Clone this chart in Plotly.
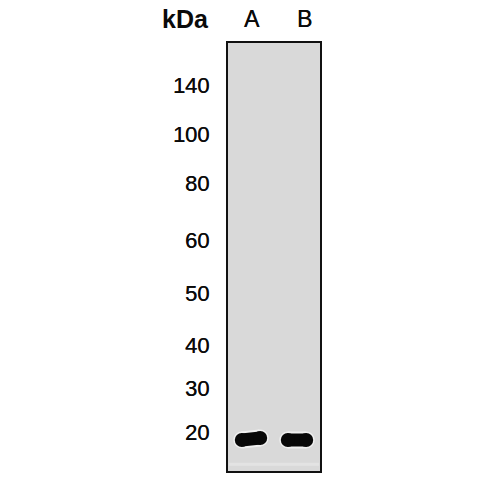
import plotly.graph_objects as go

# marker ladder (kDa) and how far each one ran down the gel
marker_kda = [140, 100, 80, 60, 50, 40, 30, 20]
marker_migration = [42, 91, 140, 197, 250, 302, 345, 389]

# sample lanes and their band
lanes = ["A", "B"]
lane_pos = [0, 1]
band_start_migration = [397, 397]
band_end_migration = [395, 397]
band_halfwidth = [0.2, 0.2]

heavy = "0.25px 0 0 #222"

fig = go.Figure()

for i, lane in enumerate(lanes):
    xs = [lane_pos[i] - band_halfwidth[i], lane_pos[i] + band_halfwidth[i]]
    ys = [band_start_migration[i], band_end_migration[i]]
    # faint halo around the band
    fig.add_trace(go.Scatter(x=xs, y=ys, mode="lines+markers",
                             line=dict(color="#f0f0f0", width=17),
                             marker=dict(color="#f0f0f0", size=17, symbol="circle"),
                             hoverinfo="skip", showlegend=False))
    fig.add_trace(go.Scatter(x=xs, y=ys, mode="lines+markers",
                             line=dict(color="#080808", width=13),
                             marker=dict(color="#080808", size=14, symbol="circle"),
                             name=lane, showlegend=False))

ann = [dict(text="<b>kDa</b>", xref="paper", yref="paper",
            x=211 / 500, y=1 - 19 / 500, xanchor="right", yanchor="middle",
            showarrow=False, font=dict(size=25, color="#0a0a0a"))]
for i, lane in enumerate(lanes):
    ann.append(dict(text=lane, xref="x", yref="paper", x=lane_pos[i],
                    y=1 - 19 / 500, yanchor="middle", xshift=[1, 7][i],
                    showarrow=False, font=dict(size=23, color="#0a0a0a", shadow=heavy)))

fig.update_layout(
    width=500, height=500,
    margin=dict(l=0, r=0, t=0, b=0),
    paper_bgcolor="white",
    plot_bgcolor="#d9d9d9",
    font=dict(family="Liberation Sans, Arial, sans-serif", size=22, color="#0a0a0a"),
    xaxis=dict(domain=[228 / 500, 320 / 500], range=[-0.5, 1.5],
               showticklabels=False, ticks="",
               showgrid=False, zeroline=False,
               showline=True, mirror=True, linecolor="#111111", linewidth=2),
    yaxis=dict(domain=[1 - 471 / 500, 1 - 43 / 500], range=[428, 0],
               tickvals=marker_migration, ticktext=[str(k) for k in marker_kda],
               ticks="", ticklabelstandoff=12,
               tickfont=dict(shadow=heavy),
               showgrid=False, zeroline=False,
               showline=True, mirror=True, linecolor="#111111", linewidth=2),
    shapes=[dict(type="rect", xref="x domain", yref="y domain",
                 x0=0.01, x1=0.99, y0=0.012, y1=0.019,
                 fillcolor="#e3e3e3", line=dict(width=0), layer="below")],
    annotations=ann,
)

# drop the page's default body margin so the figure sits at the window corner
fig.write_html("out.html", config={"displayModeBar": False},
               post_script="document.body.style.margin='0';")
